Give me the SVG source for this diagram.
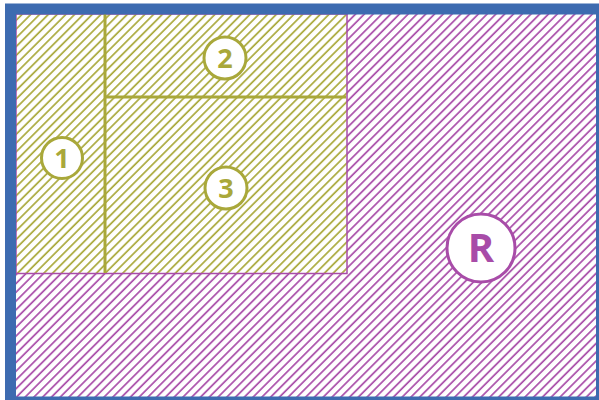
<svg xmlns="http://www.w3.org/2000/svg" width="599" height="400" viewBox="0 0 599 400">
<style>
.ol{fill:none;stroke:#a9a83a;stroke-width:3}
.cO{fill:#fff;stroke:#a9a83a;stroke-width:3}
.cM{fill:#fff;stroke:#a84ca8;stroke-width:3}
.tO{font-family:"Open Sans","Liberation Sans",sans-serif;font-weight:bold;font-size:27px;fill:#a9a83a;text-anchor:middle}
.tM{font-family:"Open Sans","Liberation Sans",sans-serif;font-weight:bold;font-size:40px;fill:#a84ca8;text-anchor:middle}
</style>
<defs>
<pattern id="hM" width="6.2" height="10" patternUnits="userSpaceOnUse" patternTransform="rotate(45)">
<rect width="6.2" height="10" fill="#fff"/>
<line x1="1" y1="0" x2="1" y2="10" stroke="#a84ca8" stroke-width="1.7"/>
</pattern>
<pattern id="hO" width="6.2" height="10" patternUnits="userSpaceOnUse" patternTransform="rotate(45)">
<rect width="6.2" height="10" fill="#fff"/>
<line x1="1" y1="0" x2="1" y2="10" stroke="#a9a83a" stroke-width="1.7"/>
</pattern>
</defs>
<rect id="bg" x="0" y="0" width="599" height="400" fill="#fff"/>
<g id="regionR">
<rect x="16" y="14" width="590" height="390" fill="url(#hM)"/>
</g>
<g id="regionOlive">
<rect x="16" y="14" width="331" height="259.5" fill="url(#hO)" stroke="#a84ca8" stroke-width="1.5"/>
</g>
<g id="dividers">
<line class="ol" x1="105" y1="11" x2="105" y2="273"/>
<line class="ol" x1="105" y1="97" x2="346" y2="97"/>
</g>
<rect id="frame" x="10.5" y="9" width="591" height="393" fill="none" stroke="#3d6bb0" stroke-width="11"/>
<g id="n1">
<circle class="cO" cx="62" cy="158" r="20.5"/>
<text class="tO" x="62" y="168">1</text>
</g>
<g id="n2">
<circle class="cO" cx="225" cy="58" r="21"/>
<text class="tO" x="225" y="68">2</text>
</g>
<g id="n3">
<circle class="cO" cx="226" cy="188" r="21"/>
<text class="tO" x="226" y="198">3</text>
</g>
<g id="nR">
<circle class="cM" cx="481" cy="248" r="34"/>
<text class="tM" x="481" y="262">R</text>
</g>
</svg>
